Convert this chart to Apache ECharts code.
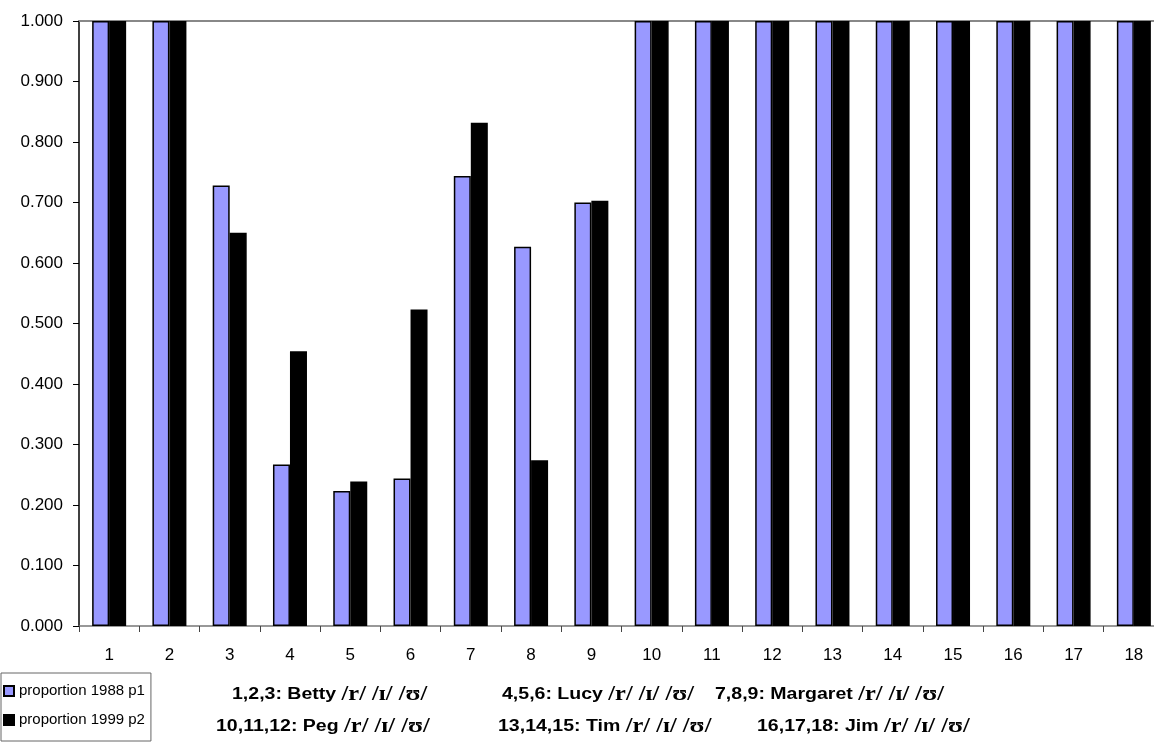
<!DOCTYPE html>
<html>
<head>
<meta charset="utf-8">
<script src="https://cdn.jsdelivr.net/npm/echarts@6/dist/echarts.min.js"></script>
<style>
  html, body { margin: 0; padding: 0; background: #fff; overflow: hidden; }
  /* the plot area runs a little past the right edge of the window */
  #chart { width: 1164px; height: 751px; }
</style>
</head>
<body>
<div id="chart"></div>
<script>
// Proportions per token, speakers grouped in threes
const categories = ['1','2','3','4','5','6','7','8','9','10','11','12','13','14','15','16','17','18'];
const proportion1988 = [1.000, 1.000, 0.728, 0.267, 0.223, 0.244, 0.744, 0.627, 0.700, 1.000, 1.000, 1.000, 1.000, 1.000, 1.000, 1.000, 1.000, 1.000];
const proportion1999 = [1.000, 1.000, 0.650, 0.454, 0.239, 0.523, 0.832, 0.274, 0.703, 1.000, 1.000, 1.000, 1.000, 1.000, 1.000, 1.000, 1.000, 1.000];
const seriesNames = ['proportion 1988 p1', 'proportion 1999 p2'];

// Speaker key below the axis: [tokens, speaker, x, y]
const speakerKey = [
  ['1,2,3:', 'Betty', 232, 695],
  ['4,5,6:', 'Lucy', 502, 695],
  ['7,8,9:', 'Margaret', 715, 695],
  ['10,11,12:', 'Peg', 216, 727],
  ['13,14,15:', 'Tim', 498, 727],
  ['16,17,18:', 'Jim', 757, 727]
];

const sans = 'Liberation Sans, Arial, sans-serif';
const serif = 'Liberation Serif, Times New Roman, serif';

const chart = echarts.init(document.getElementById('chart'), null, { renderer: 'canvas' });

// key text is set a little wide, like the axis lettering
const keyTexts = speakerKey.map(([nums, name, x, y]) => ({
  type: 'text',
  x: x,
  y: y,
  scaleX: 1.22,
  style: {
    text: '{s|' + nums + ' ' + name + ' }{p|/r/ /ɪ/ /ʊ/}',
    verticalAlign: 'middle',
    rich: {
      s: { fontFamily: sans, fontWeight: 'bold', fontSize: 16, fill: '#000' },
      p: { fontFamily: serif, fontWeight: 'bold', fontSize: 20, fill: '#000' }
    }
  }
}));

chart.setOption({
  animation: false,
  backgroundColor: '#fff',
  grid: { left: 79, right: 0, top: 21, bottom: 125 },
  legend: {
    data: seriesNames,
    orient: 'vertical',
    left: 1,
    top: 673,
    padding: [10, 6, 13, 2],
    itemGap: 13,
    itemWidth: 10,
    itemHeight: 10,
    icon: 'rect',
    borderColor: '#666',
    borderWidth: 1,
    textStyle: { fontFamily: sans, fontSize: 15, color: '#000', lineHeight: 16 }
  },
  xAxis: [{
    type: 'category',
    data: categories,
    axisLine: { lineStyle: { color: '#777', width: 1.5 } },
    axisTick: { show: true, length: 6, lineStyle: { color: '#444' } },
    axisLabel: { fontFamily: sans, fontSize: 17, color: '#000', margin: 21 },
    splitLine: { show: false }
  }, {
    type: 'category',
    data: categories,
    position: 'top',
    axisLine: { show: true, lineStyle: { color: '#888', width: 2 } },
    axisTick: { show: false },
    axisLabel: { show: false }
  }],
  yAxis: {
    type: 'value',
    min: 0,
    max: 1,
    interval: 0.1,
    axisLine: { show: true, lineStyle: { color: '#000', width: 1.5 } },
    axisTick: { show: true, length: 6, lineStyle: { color: '#000' } },
    axisLabel: {
      fontFamily: sans, fontSize: 17, color: '#000', margin: 16,
      formatter: v => v.toFixed(3)
    },
    splitLine: { show: false }
  },
  series: [{
    name: seriesNames[0],
    type: 'bar',
    data: proportion1988,
    barWidth: 17,
    barGap: '0%',
    itemStyle: { color: '#9999FF', borderColor: '#000', borderWidth: 1.5 }
  }, {
    name: seriesNames[1],
    type: 'bar',
    data: proportion1999,
    barWidth: 17,
    itemStyle: { color: '#000', borderColor: '#000', borderWidth: 1.5 }
  }],
  graphic: keyTexts
});
</script>
</body>
</html>
